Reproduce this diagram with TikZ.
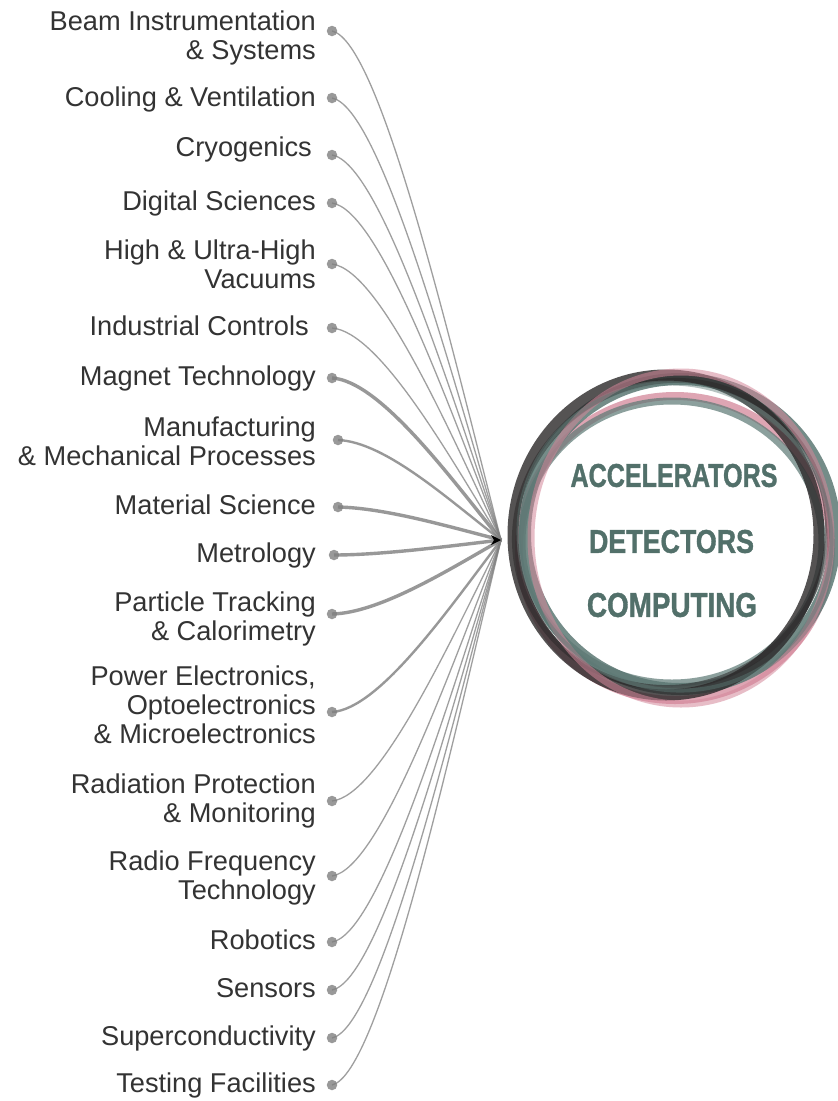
\documentclass[tikz,border=0pt]{standalone}
\usepackage{fontspec}
\setmainfont{Liberation Sans}
\newfontfamily\headfont[FakeBold=1.3]{Liberation Sans}
\usepackage{graphicx}
\definecolor{lbltext}{HTML}{333333}
\definecolor{headtext}{HTML}{52706A}
\definecolor{dotgray}{HTML}{999999}
\definecolor{conngray}{HTML}{7F7F7F}
\definecolor{ringdark}{HTML}{2B2829}
\definecolor{ringteal}{HTML}{5C7874}
\definecolor{ringpink}{HTML}{D4879A}
\tikzset{
  lbl/.style={anchor=north east, inner sep=0pt, align=right, text=lbltext,
    font=\fontsize{27.2}{29}\selectfont},
  dotnode/.style={circle, fill=dotgray, inner sep=0pt, minimum size=10.5pt},
  conn/.style={draw=conngray, line width=1.3pt, opacity=0.75},
  connmid/.style={draw=conngray, line width=2.4pt, opacity=0.8},
  connthick/.style={draw=conngray, line width=3.4pt, opacity=0.8},
  head/.style={inner sep=0pt, text=headtext},
  ringstroke/.style={line cap=round}
}
\begin{document}
\begin{tikzpicture}[x=1pt,y=-1pt]
\useasboundingbox[fill=white] (0,0) rectangle (838,1101);

% ring (several overlapping hand-drawn strokes)
\draw[ringstroke, ringpink, line width=8pt, opacity=0.75] (675,548) ellipse [x radius=156, y radius=152];
\draw[ringstroke, ringteal, line width=12pt, opacity=0.85] (680,534) ellipse [x radius=155, y radius=155];
\draw[ringstroke, ringteal, line width=7pt, opacity=0.7] (672,542) ellipse [x radius=150, y radius=141];
\draw[ringstroke, ringdark, line width=11pt, opacity=0.8] (666,535) ellipse [x radius=153, y radius=160];
\draw[ringstroke, ringdark, line width=5pt, opacity=0.55, rotate around={30:(671,534)}] (671,534) ellipse [x radius=158, y radius=152];
\draw[ringstroke, ringpink, line width=7pt, opacity=0.55] (681,538) ellipse [x radius=150, y radius=166];
\draw[ringstroke, ringteal, line width=4pt, opacity=0.45, rotate around={-30:(675,537)}] (675,537) ellipse [x radius=158, y radius=152];

% centre words
\node[head] (acc) at (674,475.5) {\resizebox{207pt}{23pt}{\headfont\bfseries ACCELERATORS}};
\node[head] (det) at (671.5,541.5) {\resizebox{165pt}{23pt}{\headfont\bfseries DETECTORS}};
\node[head] (comp) at (672,605) {\resizebox{170pt}{24pt}{\headfont\bfseries COMPUTING}};

% hub
\coordinate (hub) at (501,540);

% labels
\node[lbl] (l1) at (316,11) {Beam Instrumentation\\\& Systems};
\node[lbl] (l2) at (316,86.5) {Cooling \& Ventilation};
\node[lbl] (l3) at (312,137) {Cryogenics};
\node[lbl] (l4) at (316,191) {Digital Sciences};
\node[lbl] (l5) at (316,240) {High \& Ultra-High\\Vacuums};
\node[lbl] (l6) at (309,316) {Industrial Controls};
\node[lbl] (l7) at (316,366) {Magnet Technology};
\node[lbl] (l8) at (316,417) {Manufacturing\\\& Mechanical Processes};
\node[lbl] (l9) at (316,495) {Material Science};
\node[lbl] (l10) at (316,543) {Metrology};
\node[lbl] (l11) at (316,591.5) {Particle Tracking\\\& Calorimetry};
\node[lbl] (l12) at (316,665.5) {Power Electronics,\\Optoelectronics\\\& Microelectronics};
\node[lbl] (l13) at (316,774) {Radiation Protection\\\& Monitoring};
\node[lbl] (l14) at (316,851) {Radio Frequency\\Technology};
\node[lbl] (l15) at (316,930) {Robotics};
\node[lbl] (l16) at (316,978) {Sensors};
\node[lbl] (l17) at (316,1026) {Superconductivity};
\node[lbl] (l18) at (316,1073) {Testing Facilities};

% dots
\node[dotnode] (d1) at (332,31) {};
\node[dotnode] (d2) at (332,98) {};
\node[dotnode] (d3) at (332,155) {};
\node[dotnode] (d4) at (332,203) {};
\node[dotnode] (d5) at (332,264) {};
\node[dotnode] (d6) at (332,328) {};
\node[dotnode] (d7) at (332,378) {};
\node[dotnode] (d8) at (338,440) {};
\node[dotnode] (d9) at (338,507) {};
\node[dotnode] (d10) at (334,555) {};
\node[dotnode] (d11) at (332,614) {};
\node[dotnode] (d12) at (332,712) {};
\node[dotnode] (d13) at (332,801) {};
\node[dotnode] (d14) at (332,876) {};
\node[dotnode] (d15) at (332,942) {};
\node[dotnode] (d16) at (332,990) {};
\node[dotnode] (d17) at (332,1038) {};
\node[dotnode] (d18) at (332,1085) {};

% connectors
\draw[conn] (d1.center) .. controls (380,41) and (450,341) .. (hub);
\draw[conn] (d2.center) .. controls (380,107) and (450,368) .. (hub);
\draw[conn] (d3.center) .. controls (380,163) and (450,390) .. (hub);
\draw[conn] (d4.center) .. controls (380,210) and (450,409) .. (hub);
\draw[conn] (d5.center) .. controls (380,270) and (450,432) .. (hub);
\draw[conn] (d6.center) .. controls (380,332) and (450,457) .. (hub);
\draw[connthick] (d7.center) .. controls (380,381) and (450,477) .. (hub);
\draw[connmid] (d8.center) .. controls (386,442) and (450,501) .. (hub);
\draw[connthick] (d9.center) .. controls (386,508) and (450,527) .. (hub);
\draw[connthick] (d10.center) .. controls (382,555) and (450,546) .. (hub);
\draw[connthick] (d11.center) .. controls (380,613) and (450,569) .. (hub);
\draw[connmid] (d12.center) .. controls (380,709) and (450,607) .. (hub);
\draw[conn] (d13.center) .. controls (380,796) and (450,642) .. (hub);
\draw[conn] (d14.center) .. controls (380,869) and (450,671) .. (hub);
\draw[conn] (d15.center) .. controls (380,934) and (450,697) .. (hub);
\draw[conn] (d16.center) .. controls (380,981) and (450,716) .. (hub);
\draw[conn] (d17.center) .. controls (380,1028) and (450,734) .. (hub);
\draw[conn] (d18.center) .. controls (380,1074) and (450,753) .. (hub);

% hub mark
\fill[black] (hub) -- ++(-10,-5) -- ++(3,5) -- ++(-3,5) -- cycle;
\end{tikzpicture}
\end{document}
